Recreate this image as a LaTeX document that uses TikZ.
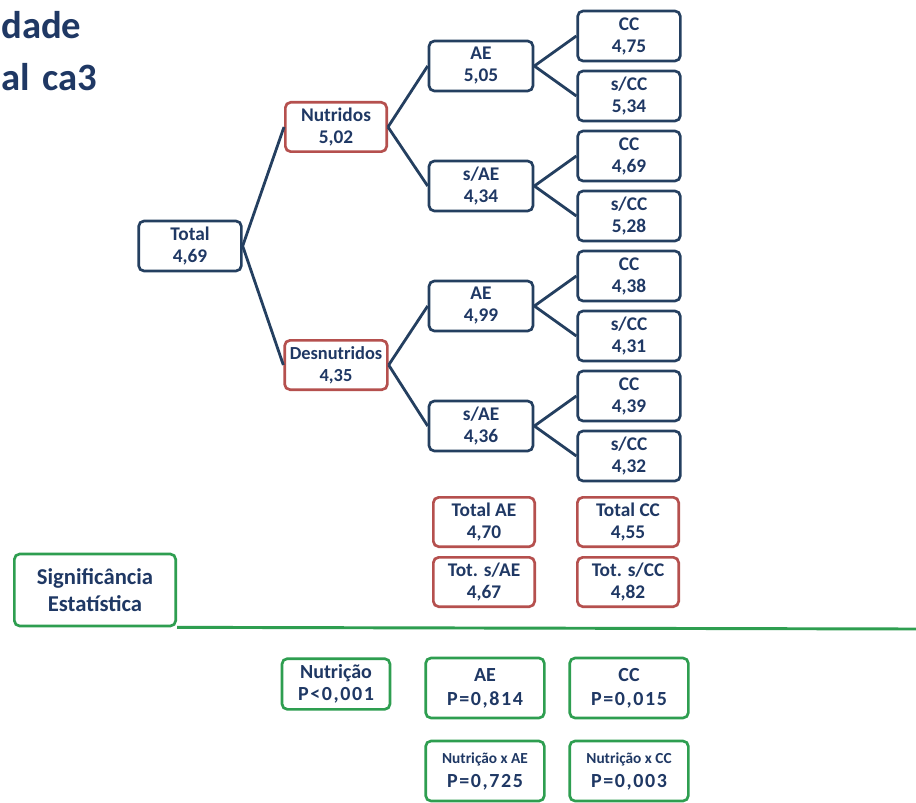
\documentclass[tikz,border=0pt]{standalone}
\usepackage{fontspec}
\setmainfont{Carlito}
\newfontfamily\pvalfont[LetterSpace=8]{Carlito}
\definecolor{boxblue}{HTML}{243F60}
\definecolor{txtblue}{HTML}{1F3864}
\definecolor{boxred}{HTML}{B5504E}
\definecolor{boxgreen}{HTML}{2E9E50}
\begin{document}
\begin{tikzpicture}[x=0.75pt, y=-0.75pt,
    box/.style={draw, line width=2pt, rounded corners=4pt, fill=white, align=center,
        text=txtblue, inner sep=0pt, font=\bfseries\fontsize{14.5}{16.5}\selectfont},
    bluebox/.style={box, draw=boxblue, minimum width=77pt, minimum height=37.5pt},
    redbox/.style={box, draw=boxred, minimum width=76pt, minimum height=37pt},
    greenbox/.style={box, draw=boxgreen, minimum width=89pt, minimum height=45pt,
        font=\bfseries\fontsize{15}{18}\selectfont},
    tline/.style={draw=boxblue, line width=2.1pt},
    title/.style={anchor=base west, text=txtblue, inner sep=0pt, font=\bfseries\fontsize{29}{32}\selectfont}]
    \useasboundingbox[fill=white] (0,0) rectangle (916,802);
    % title
    \node[title] (t1) at (1,39) {dade};
    \node[title] (t2) at (1,91) {al \hspace{3pt}ca3};
    % tree
    \node[bluebox] (tot) at (190,246) {Total\\4,69};
    \node[redbox] (nut) at (336,127) {Nutridos\\5,02};
    \node[redbox, minimum width=77pt, font=\bfseries\fontsize{13.8}{16.5}\selectfont] (des) at (336,365) {Desnutridos\\4,35};
    \node[bluebox, minimum width=78pt] (nae) at (481,66) {AE\\5,05};
    \node[bluebox, minimum width=78pt] (nsae) at (481,186) {s/AE\\4,34};
    \node[bluebox, minimum width=78pt] (dae) at (481,306) {AE\\4,99};
    \node[bluebox, minimum width=78pt] (dsae) at (481,426) {s/AE\\4,36};
    \node[bluebox] (l1) at (629,36) {CC\\4,75};
    \node[bluebox] (l2) at (629,96) {s/CC\\5,34};
    \node[bluebox] (l3) at (629,156) {CC\\4,69};
    \node[bluebox] (l4) at (629,216) {s/CC\\5,28};
    \node[bluebox] (l5) at (629,276) {CC\\4,38};
    \node[bluebox] (l6) at (629,336) {s/CC\\4,31};
    \node[bluebox] (l7) at (629,396) {CC\\4,39};
    \node[bluebox] (l8) at (629,456) {s/CC\\4,32};
    \draw[tline] (tot.east) -- (nut.west);
    \draw[tline] (tot.east) -- (des.west);
    \draw[tline] (nut.east) -- (nae.west);
    \draw[tline] (nut.east) -- (nsae.west);
    \draw[tline] (des.east) -- (dae.west);
    \draw[tline] (des.east) -- (dsae.west);
    \draw[tline] (nae.east) -- (l1.west);
    \draw[tline] (nae.east) -- (l2.west);
    \draw[tline] (nsae.east) -- (l3.west);
    \draw[tline] (nsae.east) -- (l4.west);
    \draw[tline] (dae.east) -- (l5.west);
    \draw[tline] (dae.east) -- (l6.west);
    \draw[tline] (dsae.east) -- (l7.west);
    \draw[tline] (dsae.east) -- (l8.west);
    % totals
    \node[redbox] (tae) at (484,522) {Total AE\\4,70};
    \node[redbox] (tcc) at (628,522) {Total CC\\4,55};
    \node[redbox] (tsae) at (484,582) {Tot. s/AE\\4,67};
    \node[redbox] (tscc) at (628,582) {Tot. s/CC\\4,82};
    % significance
    \node[greenbox, minimum width=121pt, minimum height=54pt,
        font=\bfseries\fontsize{17}{20}\selectfont] (sig) at (95,590) {Significância\\Estatística};
    \coordinate (lend) at (916,629);
    \draw[draw=boxgreen, line width=2.2pt] (sig.south east) -- (lend);
    \node[greenbox, minimum width=81pt, minimum height=38pt, font=\bfseries\fontsize{15}{16.5}\selectfont]
        (pnut) at (336,684) {Nutrição\\{\pvalfont P<0,001}};
    \node[greenbox] (pae) at (485,688) {AE\\{\pvalfont P=0,814}};
    \node[greenbox] (pcc) at (629,688) {CC\\{\pvalfont P=0,015}};
    \node[greenbox] (pnae) at (485,771) {{\fontsize{11.5}{13}\selectfont Nutrição x AE}\\{\pvalfont P=0,725}};
    \node[greenbox] (pncc) at (629,771) {{\fontsize{11.5}{13}\selectfont Nutrição x CC}\\{\pvalfont P=0,003}};
\end{tikzpicture}
\end{document}
